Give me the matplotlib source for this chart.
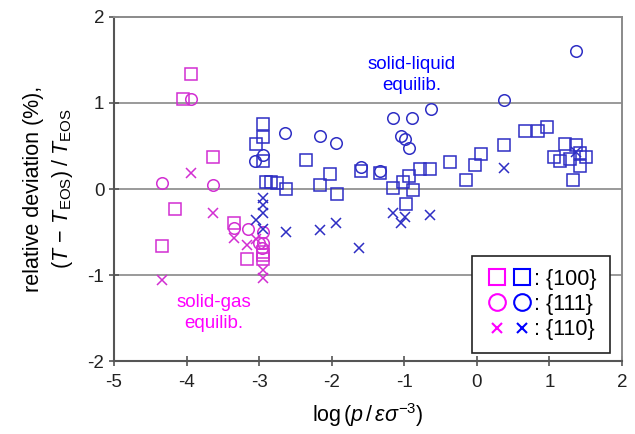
import matplotlib
matplotlib.use("Agg")
import matplotlib.pyplot as plt
from matplotlib.legend_handler import HandlerTuple
from matplotlib.lines import Line2D

plt.rcParams['font.family'] = ['Liberation Sans', 'DejaVu Sans']
plt.rcParams['mathtext.fontset'] = 'custom'
plt.rcParams['mathtext.rm'] = 'Liberation Sans'
plt.rcParams['mathtext.it'] = 'Liberation Sans:italic'

# ---- data (log p, relative deviation %) ----
mag_sq_x = [-3.94, -4.05, -3.64, -4.16, -4.34, -3.35, -3.17, -2.95, -2.95, -2.94]
mag_sq_y = [1.34, 1.05, 0.375, -0.23, -0.66, -0.39, -0.81, -0.73, -0.81, -0.77]
mag_ci_x = [-3.94, -4.34, -3.64, -3.35, -3.16, -3.00, -2.94, -2.95, -2.96]
mag_ci_y = [1.05, 0.07, 0.05, -0.45, -0.46, -0.63, -0.50, -0.63, -0.68]
mag_x_x = [-3.94, -3.64, -4.34, -3.35, -3.17, -2.95, -2.95, -3.04]
mag_x_y = [0.19, -0.28, -1.06, -0.57, -0.65, -0.94, -1.03, -0.58]

blu_sq_x = [-2.94, -2.94, -3.04, -2.94, -2.91, -2.83, -2.76, -2.63, -2.35, -2.03, -2.16,
            -1.93, -1.59, -1.34, -0.79, -0.64, -0.93, -1.02, -1.15, -0.88, -0.98, -0.37,
            -0.03, 0.06, -0.15, 0.37, 0.66, 0.84, 0.97, 1.21, 1.36, 1.07, 1.15, 1.28,
            1.42, 1.50, 1.42, 1.33]
blu_sq_y = [0.76, 0.61, 0.52, 0.33, 0.085, 0.085, 0.07, 0.00, 0.34, 0.17, 0.05,
            -0.06, 0.21, 0.19, 0.23, 0.23, 0.15, 0.08, 0.01, -0.01, -0.17, 0.31,
            0.28, 0.41, 0.10, 0.51, 0.67, 0.67, 0.72, 0.52, 0.51, 0.37, 0.32, 0.35,
            0.42, 0.37, 0.27, 0.11]
blu_ci_x = [-3.05, -2.94, -2.64, -2.16, -1.94, -1.59, -1.34, -1.16, -0.89, -0.63,
            -1.04, -0.99, -0.93, 0.37, 1.36]
blu_ci_y = [0.32, 0.40, 0.65, 0.62, 0.53, 0.25, 0.21, 0.82, 0.82, 0.93,
            0.62, 0.58, 0.48, 1.03, 1.60]
blu_x_x = [-2.95, -2.95, -2.95, -3.04, -2.95, -2.63, -2.16, -1.94, -1.63, -1.16,
           -0.99, -1.04, -0.64, 0.37, 1.37]
blu_x_y = [-0.11, -0.19, -0.28, -0.36, -0.47, -0.50, -0.48, -0.40, -0.69, -0.28,
           -0.32, -0.40, -0.30, 0.24, 0.43]

x_ticks = [-5, -4, -3, -2, -1, 0, 1, 2]
y_ticks = [-2, -1, 0, 1, 2]
legend_labels = [': {100}', ': {111}', ': {110}']

MAG = '#D22ED2'
BLU = '#2E2EC4'

fig = plt.figure(figsize=(6.35, 4.34), dpi=100)
ax = fig.add_axes([0.1795, 0.168, 0.8, 0.793])

for y in [-1, 0, 1]:
    ax.axhline(y, color='#9a9a9a', lw=1.4, zorder=0)

ms = 8.3
kw = dict(linestyle='none', markerfacecolor='none', markeredgewidth=1.1)
ax.plot(mag_sq_x, mag_sq_y, marker='s', color=MAG, markersize=ms, **kw)
ax.plot(mag_ci_x, mag_ci_y, marker='o', color=MAG, markersize=ms, **kw)
ax.plot(mag_x_x, mag_x_y, marker='x', color=MAG, markersize=ms * 0.9, **kw)
ax.plot(blu_sq_x, blu_sq_y, marker='s', color=BLU, markersize=ms, **kw)
ax.plot(blu_ci_x, blu_ci_y, marker='o', color=BLU, markersize=ms, **kw)
ax.plot(blu_x_x, blu_x_y, marker='x', color=BLU, markersize=ms * 0.9, **kw)

ax.set_xlim(-5, 2)
ax.set_ylim(-2, 2)
ax.set_xticks(x_ticks)
ax.set_yticks(y_ticks)
ax.set_xticklabels([str(t) for t in x_ticks])
ax.set_yticklabels([str(t) for t in y_ticks])
ax.tick_params(direction='inout', length=7, width=1.2, labelsize=13.5,
               color='#555555', labelcolor='#222222')
ax.tick_params(axis='x', pad=6)
for side in ['left', 'bottom']:
    ax.spines[side].set_color('#555555')
    ax.spines[side].set_linewidth(1.5)
for side in ['top', 'right']:
    ax.spines[side].set_color('#8a8a8a')
    ax.spines[side].set_linewidth(1.4)

ax.set_xlabel(r'log$\,(p\,/\,\varepsilon\sigma^{-3})$', fontsize=15.5, labelpad=7)
ax.set_ylabel('relative deviation (%),\n' + r'$(T\,-\,T_{\rm EOS})\;/\;T_{\rm EOS}$',
              fontsize=15.5, labelpad=9, linespacing=1.3)

ax.text(-0.9, 1.33, 'solid-liquid\nequilib.', color='#0000FF', fontsize=13.5,
        ha='center', va='center', linespacing=1.3)
ax.text(-3.62, -1.44, 'solid-gas\nequilib.', color='#FF00FF', fontsize=13.5,
        ha='center', va='center', linespacing=1.3)

def mk(m, c, s):
    return Line2D([], [], marker=m, color=c, linestyle='none', markersize=s,
                  markerfacecolor='none', markeredgewidth=1.5)

handles = [(mk('s', '#FF00FF', 12), mk('s', '#0000FF', 12)),
           (mk('o', '#FF00FF', 12), mk('o', '#0000FF', 12)),
           (mk('x', '#FF00FF', 7), mk('x', '#0000FF', 7))]
leg = ax.legend(handles, legend_labels, handler_map={tuple: HandlerTuple(ndivide=None, pad=0.05)},
                loc='lower right', bbox_to_anchor=(0.976, 0.023), borderaxespad=0,
                fontsize=15.5, frameon=True, fancybox=False, handlelength=2.3,
                handletextpad=0.0, labelspacing=0.2, borderpad=0.6)
leg._legend_box.align = 'center'
leg.get_frame().set_edgecolor('#222222')
leg.get_frame().set_linewidth(1.2)
leg.get_frame().set_alpha(1)

fig.canvas.draw()
# widen frame horizontally a bit to match reference
leg.set_bbox_to_anchor((0.976, 0.023), transform=ax.transAxes)
leg.borderpad = 0.6

fig.savefig('out.png', dpi=100)
